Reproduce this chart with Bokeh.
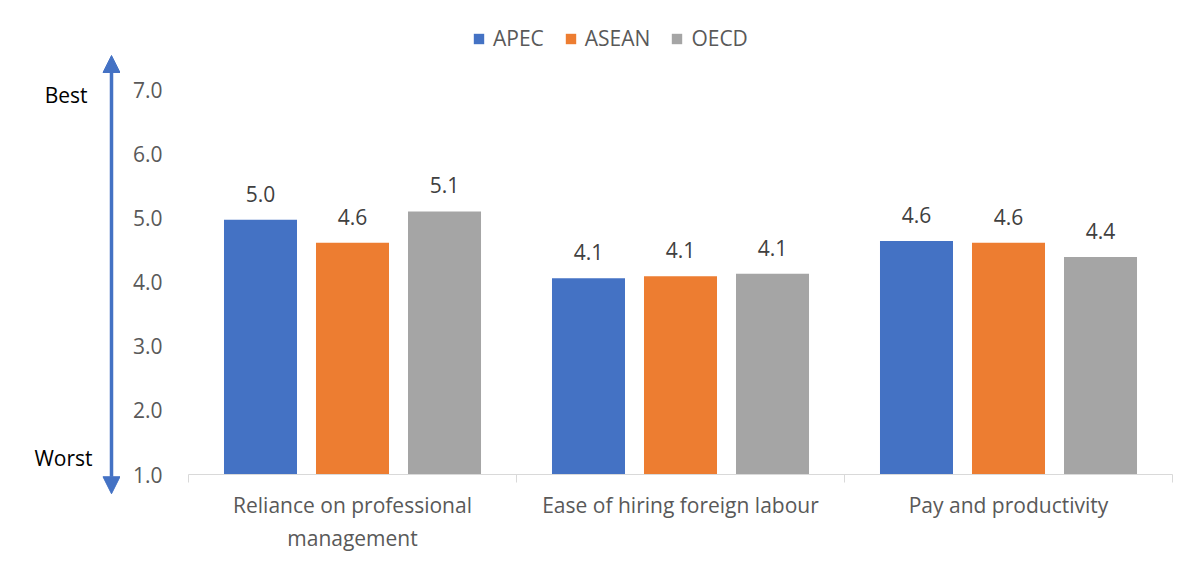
from bokeh.plotting import figure
from bokeh.layouts import row
from bokeh.models import (ColumnDataSource, FixedTicker, LabelSet, Label, Legend,
                          LegendItem, Arrow, NormalHead, Range1d)
from bokeh.embed import file_html
from bokeh.resources import INLINE
from bokeh.core.properties import value

# ---- data ----
categories = ["Reliance on professional\nmanagement", "Ease of hiring foreign labour", "Pay and productivity"]
series = ["APEC", "ASEAN", "OECD"]
apec = [4.97, 4.06, 4.64]
asean = [4.61, 4.09, 4.61]
oecd = [5.10, 4.13, 4.39]
y_ticks = [1, 2, 3, 4, 5, 6, 7]

colors = ["#4472C4", "#ED7D31", "#A5A5A5"]
FONT = value("Open Sans")
FS = "21px"

# ---- layout (pixels) ----
H = 558
LW = 120                       # left strip with the Best/Worst arrow
MW = 1067                      # main chart width
ML, MR, MT, MB = 68, 15, 0, 84
Y_LO, Y_HI = 1, 7
PX_PER_UNIT = (474 - 89) / (Y_HI - Y_LO)
y_top = Y_HI + 89 / PX_PER_UNIT
y_bot_left = Y_LO - MB / PX_PER_UNIT

# ---- main chart ----
p = figure(width=MW, height=H, output_backend="svg", toolbar_location=None,
           x_range=Range1d(0, 3), y_range=Range1d(Y_LO, y_top),
           min_border_left=ML, min_border_right=MR, min_border_top=MT, min_border_bottom=MB)
p.frame_align = False
p.xgrid.visible = False
p.ygrid.visible = False
p.outline_line_color = None

bar_w = 0.2226
step = 0.2805
renderers = []
for j, (name, vals) in enumerate(zip(series, [apec, asean, oecd])):
    xs = [i + 0.5 + (j - 1) * step for i in range(len(categories))]
    src = ColumnDataSource(dict(x=xs, top=vals, lab=[f"{v:.1f}" for v in vals]))
    r = p.vbar(x="x", top="top", bottom=Y_LO, width=bar_w, source=src,
               fill_color=colors[j], line_color=None)
    renderers.append(r)
    p.add_layout(LabelSet(x="x", y="top", text="lab", source=src, text_align="center",
                          text_baseline="middle", y_offset=26, text_font=FONT,
                          text_font_size=FS, text_color="#404040"))

# y axis
p.yaxis.ticker = FixedTicker(ticks=y_ticks)
p.yaxis.major_label_overrides = {t: f"{t:.1f}" for t in y_ticks}
p.yaxis.axis_line_color = None
p.yaxis.major_tick_line_color = None
p.yaxis.minor_tick_line_color = None
p.yaxis.major_tick_out = 0
p.yaxis.major_tick_in = 0
p.yaxis.major_label_standoff = 26
p.yaxis.major_label_text_font = "Open Sans"
p.yaxis.major_label_text_font_size = FS
p.yaxis.major_label_text_color = "#595959"

# x axis
centers = [i + 0.5 for i in range(len(categories))]
p.xaxis.ticker = FixedTicker(ticks=centers, minor_ticks=list(range(len(categories) + 1)))
p.xaxis.major_label_overrides = {c: lab for c, lab in zip(centers, categories)}
p.xaxis.axis_line_color = "#D9D9D9"
p.xaxis.axis_line_width = 1
p.xaxis.major_tick_line_color = None
p.xaxis.major_tick_out = 0
p.xaxis.major_tick_in = 0
p.xaxis.minor_tick_line_color = "#D9D9D9"
p.xaxis.minor_tick_out = 8
p.xaxis.minor_tick_in = 0
p.xaxis.major_label_standoff = 8
p.xaxis.major_label_text_font = "Open Sans"
p.xaxis.major_label_text_font_size = FS
p.xaxis.major_label_text_color = "#595959"
p.xaxis.major_label_orientation = "horizontal"

legend = Legend(items=[LegendItem(label=s, renderers=[r]) for s, r in zip(series, renderers)],
                orientation="horizontal", location=(284, 422),
                glyph_width=13, glyph_height=13, label_standoff=8, spacing=20,
                padding=0, margin=0, border_line_color=None, background_fill_alpha=0,
                label_text_font="Open Sans", label_text_font_size=FS,
                label_text_color="#595959")
p.add_layout(legend)

# ---- left strip: Best / Worst arrow (own full-height frame) ----
q = figure(width=LW, height=H, output_backend="svg", toolbar_location=None,
           x_range=Range1d(0, LW), y_range=Range1d(y_bot_left, y_top),
           x_axis_location=None, y_axis_location=None,
           min_border_left=0, min_border_right=0, min_border_top=0, min_border_bottom=0)
q.frame_align = False
q.xgrid.visible = False
q.ygrid.visible = False
q.outline_line_color = None

blue = "#4472C4"
q.add_layout(Arrow(x_start=111, y_start=0.70, x_end=111, y_end=7.53,
                   line_color=blue, line_width=3.5,
                   start=NormalHead(size=17, fill_color=blue, line_color=blue),
                   end=NormalHead(size=17, fill_color=blue, line_color=blue)))
q.add_layout(Label(x=87, y=6.92, text="Best", text_align="right",
                   text_baseline="middle", text_font="Open Sans", text_font_size=FS,
                   text_color="#000000"))
q.add_layout(Label(x=92, y=1.25, text="Worst", text_align="right",
                   text_baseline="middle", text_font="Open Sans", text_font_size=FS,
                   text_color="#000000"))

layout = row(q, p, spacing=0)
open("out.html", "w").write(file_html(layout, INLINE))
